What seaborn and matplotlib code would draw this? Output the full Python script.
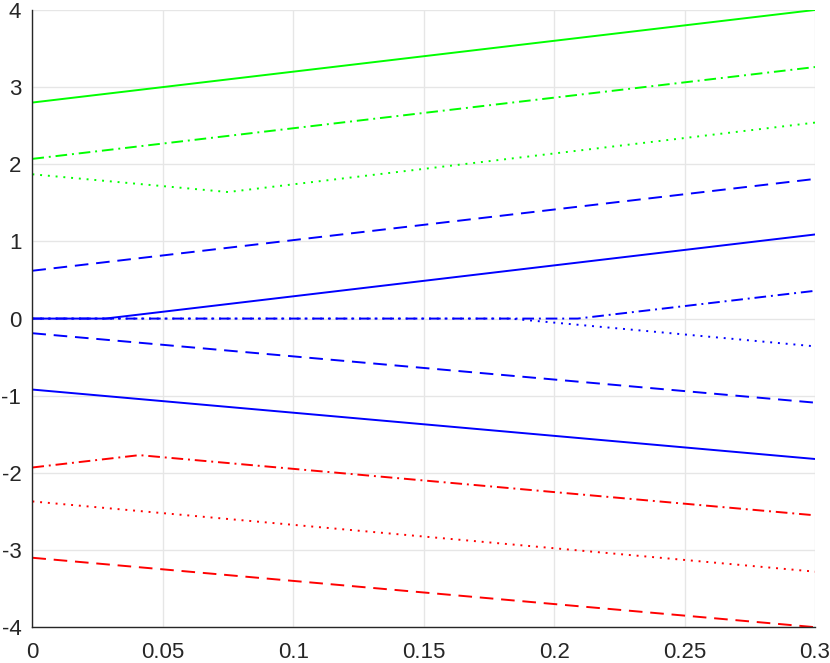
import numpy as np
import pandas as pd
import matplotlib
matplotlib.use("Agg")
import matplotlib.pyplot as plt
import seaborn as sns

# breakpoints (x, y) of each line
green_solid_x, green_solid_y = [0, 0.3], [2.80, 4.00]
green_dashdot_x, green_dashdot_y = [0, 0.3], [2.07, 3.26]
green_dot_x, green_dot_y = [0, 0.075, 0.3], [1.87, 1.64, 2.54]

blue_dash_hi_x, blue_dash_hi_y = [0, 0.3], [0.62, 1.81]
blue_solid_hi_x, blue_solid_hi_y = [0, 0.028, 0.3], [0.0, 0.0, 1.09]
blue_dashdot_x, blue_dashdot_y = [0, 0.209, 0.3], [0.0, 0.0, 0.36]
blue_dot_x, blue_dot_y = [0, 0.183, 0.3], [0.0, 0.0, -0.36]
blue_dash_lo_x, blue_dash_lo_y = [0, 0.3], [-0.19, -1.09]
blue_solid_lo_x, blue_solid_lo_y = [0, 0.3], [-0.92, -1.82]

red_dashdot_x, red_dashdot_y = [0, 0.041, 0.3], [-1.93, -1.77, -2.55]
red_dot_x, red_dot_y = [0, 0.3], [-2.37, -3.28]
red_dash_x, red_dash_y = [0, 0.3], [-3.10, -4.00]

xticks = [0, 0.05, 0.1, 0.15, 0.2, 0.25, 0.3]
xtick_labels = ["0", "0.05", "0.1", "0.15", "0.2", "0.25", "0.3"]
yticks = [-4, -3, -2, -1, 0, 1, 2, 3, 4]
ytick_labels = ["-4", "-3", "-2", "-1", "0", "1", "2", "3", "4"]

GREEN, BLUE, RED = "#00ff00", "#0000ff", "#ff0000"
SOLID = "-"
DASH = (0, (7, 4))
DOT = (0, (1, 3))
DASHDOT = (0, (6, 2.5, 1, 2.5))

series = [
    (green_solid_x, green_solid_y, GREEN, SOLID),
    (green_dashdot_x, green_dashdot_y, GREEN, DASHDOT),
    (green_dot_x, green_dot_y, GREEN, DOT),
    (blue_dash_hi_x, blue_dash_hi_y, BLUE, DASH),
    (blue_dot_x, blue_dot_y, BLUE, DOT),
    (blue_dashdot_x, blue_dashdot_y, BLUE, DASHDOT),
    (blue_solid_hi_x, blue_solid_hi_y, BLUE, SOLID),
    (blue_dash_lo_x, blue_dash_lo_y, BLUE, DASH),
    (blue_solid_lo_x, blue_solid_lo_y, BLUE, SOLID),
    (red_dashdot_x, red_dashdot_y, RED, DASHDOT),
    (red_dot_x, red_dot_y, RED, DOT),
    (red_dash_x, red_dash_y, RED, DASH),
]

sns.set_style("white")
plt.rcParams["font.family"] = ["Liberation Sans", "DejaVu Sans"]

fig = plt.figure(figsize=(8.3, 6.63), dpi=100)
ax = fig.add_axes([0.039, 0.054, 0.943, 0.931])

for xs, ys, col, ls in series:
    d = pd.DataFrame({"x": xs, "y": ys})
    sns.lineplot(data=d, x="x", y="y", ax=ax, color=col, linestyle=ls,
                 lw=1.4, estimator=None, sort=False)

ax.set_xlim(0, 0.3)
ax.set_ylim(-4, 4)
ax.set_xticks(xticks)
ax.set_xticklabels(xtick_labels)
ax.set_yticks(yticks)
ax.set_yticklabels(ytick_labels)
ax.set_xlabel("")
ax.set_ylabel("")
ax.grid(True, color="#e6e6e6", lw=1)
ax.set_axisbelow(True)
for s in ["top", "right"]:
    ax.spines[s].set_visible(False)
for s in ["left", "bottom"]:
    ax.spines[s].set_color("#262626")
    ax.spines[s].set_linewidth(1)
ax.tick_params(direction="in", length=5, width=1, color="#262626",
               labelsize=16, labelcolor="#262626")
ax.tick_params(axis="x", pad=11)
ax.tick_params(axis="y", pad=8)

fig.savefig("out.png", dpi=100)
